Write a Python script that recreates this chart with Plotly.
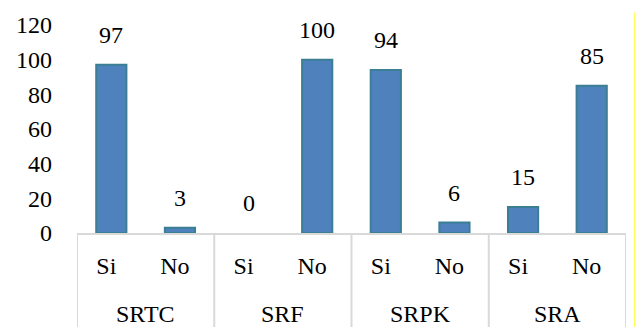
import plotly.graph_objects as go

# Survey answers per indicator group
groups = ["SRTC", "SRF", "SRPK", "SRA"]
answers = ["Si", "No"]
si_values = [97, 0, 94, 15]
no_values = [3, 100, 6, 85]
y_ticks = [0, 20, 40, 60, 80, 100, 120]

FONT = "Times New Roman"
BAR_FILL = "#4F81BD"
BAR_EDGE = "#3A7F94"
GRID_GREY = "#D9D9D9"

# Flatten into one bar per (group, answer) slot
positions, values, inner_labels = [], [], []
for g_idx, g in enumerate(groups):
    for a_idx, a in enumerate(answers):
        positions.append(g_idx * len(answers) + a_idx)
        values.append(si_values[g_idx] if a == "Si" else no_values[g_idx])
        inner_labels.append(a)

fig = go.Figure(
    go.Bar(
        x=positions,
        y=values,
        width=0.44,
        marker=dict(
            color=BAR_FILL,
            # empty bars get no outline so nothing is drawn for them
            line=dict(color=BAR_EDGE, width=[2 if v > 0 else 0 for v in values]),
        ),
        hoverinfo="skip",
    )
)

# Value labels above each bar
for xp, v in zip(positions, values):
    fig.add_annotation(
        x=xp, y=v, xref="x", yref="y",
        text=str(v), showarrow=False,
        yanchor="middle", yshift=30,
        font=dict(family=FONT, size=24, color="black"),
    )

# Group labels and table-like dividers under the axis
n = len(answers)
for g_idx, g in enumerate(groups):
    center = g_idx * n + (n - 1) / 2
    fig.add_annotation(
        x=center, y=0, xref="x", yref="paper",
        text=g, showarrow=False, yanchor="middle", yshift=-81,
        font=dict(family=FONT, size=24, color="black"),
    )
for b in range(len(groups) + 1):
    xb = b * n - 0.5
    fig.add_shape(
        type="line", xref="x", yref="paper",
        x0=xb, x1=xb, y0=0, y1=-0.6,
        line=dict(color=GRID_GREY, width=2),
    )

# Thin yellow rule at the right page edge
fig.add_shape(
    type="line", xref="paper", yref="paper",
    x0=1.0158, x1=1.0158, y0=-0.6, y1=1.06,
    line=dict(color="#FFFF33", width=1),
)

fig.update_layout(
    width=638, height=327,
    margin=dict(l=77, r=12, t=19, b=94),
    paper_bgcolor="white", plot_bgcolor="white",
    showlegend=False,
    font=dict(family=FONT, size=24, color="black"),
    xaxis=dict(
        range=[-0.5, len(positions) - 0.5],
        tickvals=positions, ticktext=inner_labels,
        ticks="", showgrid=False, zeroline=False,
        showline=True, linecolor=GRID_GREY, linewidth=2,
        ticklabelstandoff=10, ticklabelshift=-5,
        tickfont=dict(family=FONT, size=24, color="black"),
    ),
    yaxis=dict(
        range=[0, 120], tickvals=y_ticks,
        ticks="", showgrid=False, zeroline=False, showline=False,
        ticklabelstandoff=24,
        tickfont=dict(family=FONT, size=24, color="black"),
    ),
)

fig.write_html("out.html")
